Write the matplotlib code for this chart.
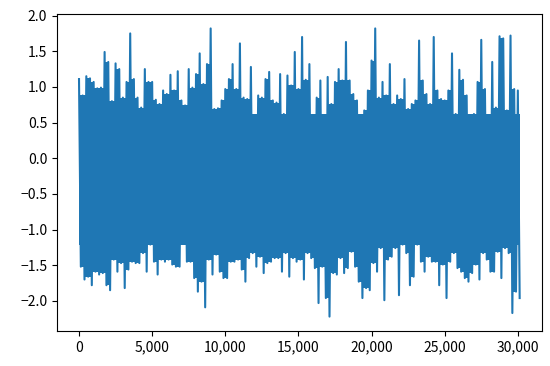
import numpy as np
import matplotlib.pyplot as plt
from matplotlib.ticker import StrMethodFormatter

plt.rcParams['font.family'] = ['Noto Sans CJK SC', 'DejaVu Sans']

# the trace is ~30,000 samples, read here as max / min per 250-sample window
window = 250
starts = np.arange(0, 30001, window)

peak_hi = [1.11, 0.88, 1.15, 1.12, 1.07, 0.98, 0.99, 1.49, 1.35, 0.80,
           1.33, 1.25, 0.85, 1.07, 1.75, 1.11, 0.85, 0.71, 1.25, 1.07,
           1.07, 0.82, 0.76, 0.95, 0.90, 1.17, 0.95, 1.22, 0.81, 0.74,
           1.25, 0.99, 1.18, 1.47, 1.04, 1.32, 1.82, 0.69, 0.70, 0.81,
           0.97, 1.11, 1.32, 0.97, 1.61, 0.85, 0.83, 1.28, 0.60, 0.88,
           0.85, 1.11, 1.21, 0.81, 0.78, 1.18, 0.62, 1.16, 1.02, 1.49,
           0.97, 1.70, 1.10, 1.32, 0.60, 0.85, 1.09, 0.60, 1.14, 0.76,
           1.07, 1.25, 1.09, 1.63, 1.09, 0.90, 0.81, 0.41, 0.67, 0.95,
           1.37, 1.82, 0.85, 1.07, 0.88, 1.32, 0.76, 0.88, 0.83, 1.11,
           0.69, 0.76, 0.81, 1.65, 1.09, 0.90, 0.76, 1.70, 0.95, 0.83,
           0.81, 0.95, 1.47, 0.62, 1.24, 1.10, 0.88, 0.60, 0.62, 1.07,
           1.66, 0.97, 0.60, 1.35, 0.71, 1.71, 1.68, 0.67, 1.72, 0.97,
           0.95]

peak_lo = [-1.52, -1.70, -1.66, -1.78, -1.59, -1.63, -1.61, -1.78, -1.85, -1.42,
           -1.59, -1.47, -1.82, -1.56, -1.45, -1.47, -1.47, -1.33, -1.59, -1.21,
           -1.45, -1.63, -1.42, -1.45, -1.42, -1.49, -1.52, -1.52, -1.20, -1.45,
           -1.45, -1.68, -1.87, -1.73, -2.09, -1.42, -1.63, -1.35, -1.59, -1.68,
           -1.68, -1.45, -1.45, -1.42, -1.56, -1.73, -1.40, -1.33, -1.52, -1.38,
           -1.61, -1.47, -1.45, -1.40, -1.40, -1.59, -1.33, -1.66, -1.40, -1.45,
           -1.42, -1.70, -1.33, -1.40, -1.54, -2.03, -1.52, -1.96, -2.22, -1.61,
           -1.63, -1.40, -1.61, -1.54, -1.31, -1.52, -1.73, -1.96, -1.82, -1.85,
           -1.47, -1.59, -1.26, -1.99, -1.42, -1.38, -1.26, -1.92, -1.21, -1.33,
           -1.78, -1.66, -1.21, -1.45, -1.59, -1.38, -1.45, -1.45, -1.78, -1.49,
           -1.96, -1.45, -1.33, -1.54, -1.59, -1.68, -1.73, -1.61, -1.49, -1.70,
           -1.33, -1.42, -1.59, -1.59, -1.31, -1.68, -1.26, -1.33, -2.17, -1.87,
           -1.96]

# where the trace is solid
core_top = 0.62
core_bottom = -1.22

blue = '#1f77b4'

hi = np.array(peak_hi)
lo = np.array(peak_lo)

# max then min inside every window
idx = np.column_stack([starts, starts + window // 2]).ravel()
sig = np.column_stack([hi, lo]).ravel()

# between two neighbouring peaks the trace is dense up to the lower one
shoulder_hi = np.maximum(np.minimum(hi[:-1], hi[1:]), core_top)
shoulder_lo = np.minimum(np.maximum(lo[:-1], lo[1:]), core_bottom)

fig = plt.figure(figsize=(5.5, 3.66), dpi=100)
ax = fig.add_axes([0.1036, 0.0956, 0.8813, 0.8661])

ax.fill_between([idx[0], idx[-1]], core_bottom, core_top, color=blue, lw=0)
ax.fill_between(starts[:-1], core_top, shoulder_hi, step='post', color=blue, lw=0)
ax.fill_between(starts[:-1] + window // 2, core_bottom, shoulder_lo, step='post',
                color=blue, lw=0)
ax.plot(idx, sig, color=blue)

ax.xaxis.set_major_formatter(StrMethodFormatter('{x:,.0f}'))

fig.savefig('out.png')
